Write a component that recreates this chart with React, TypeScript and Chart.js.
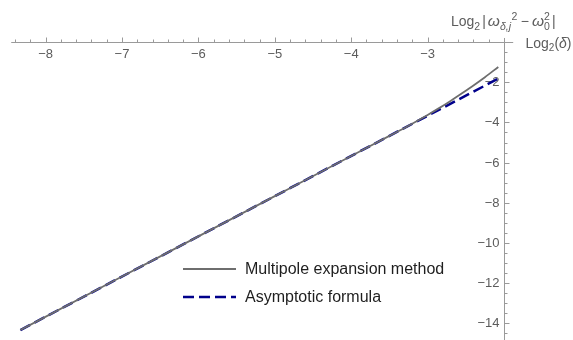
import React, { useEffect, useRef } from "react";
import { Chart, registerables } from "chart.js";

Chart.register(...registerables);

// ---- data ----
const multipoleX = [-8.33, -7, -6, -5, -4, -3.5, -3.25, -3, -2.85, -2.7, -2.55, -2.4, -2.25, -2.075];
const multipoleY = [-14.33, -11.67, -9.67, -7.67, -5.67, -4.67, -4.165, -3.63, -3.29, -2.93, -2.55, -2.16, -1.75, -1.24];
const asymptoticX = [-8.33, -2.09];
const asymptoticY = [-14.33, -1.85];
const seriesLabels = ["Multipole expansion method", "Asymptotic formula"];
const xTickValues = [-8, -7, -6, -5, -4, -3];
const yTickValues = [-2, -4, -6, -8, -10, -12, -14];

const FONT = '"Liberation Sans", Arial, sans-serif';
const AXIS_COLOR = "#9a9a9a";
const LABEL_COLOR = "#5c5c5c";

type Seg = { t: string; size: number; dy: number; italic?: boolean; stack?: boolean; pad?: number };

function layoutRich(ctx: CanvasRenderingContext2D, segs: Seg[]) {
  const out: { s: Seg; x: number }[] = [];
  let cx = 0;
  let prevStart = 0;
  let prevWidth = 0;
  for (const s of segs) {
    ctx.font = `${s.italic ? "italic " : ""}${s.size}px ${FONT}`;
    const w = ctx.measureText(s.t).width;
    const pad = s.pad || 0;
    if (s.stack) {
      out.push({ s, x: prevStart });
      cx = Math.max(prevStart + prevWidth, prevStart + w);
      continue;
    }
    const x = cx + pad;
    out.push({ s, x });
    prevStart = x;
    prevWidth = w;
    cx = x + w + pad;
  }
  return { items: out, width: cx };
}

function drawRich(ctx: CanvasRenderingContext2D, segs: Seg[], x: number, baseline: number) {
  const { items } = layoutRich(ctx, segs);
  for (const it of items) {
    ctx.font = `${it.s.italic ? "italic " : ""}${it.s.size}px ${FONT}`;
    ctx.fillText(it.s.t, x + it.x, baseline + it.s.dy);
  }
}

const axesPlugin = {
  id: "mathAxes",
  beforeDatasetsDraw(chart: any) {
    const ctx: CanvasRenderingContext2D = chart.ctx;
    const xs = chart.scales.x;
    const ys = chart.scales.y;
    const x0 = Math.round(xs.getPixelForValue(-2)) + 0.5;
    const y0 = Math.round(ys.getPixelForValue(0)) + 0.5;
    ctx.save();
    ctx.strokeStyle = AXIS_COLOR;
    ctx.lineWidth = 1;
    ctx.beginPath();
    ctx.moveTo(xs.getPixelForValue(-8.45), y0);
    ctx.lineTo(xs.getPixelForValue(-1.88), y0);
    ctx.moveTo(x0, ys.getPixelForValue(0.2));
    ctx.lineTo(x0, ys.getPixelForValue(-15.5));
    // x ticks (upwards)
    for (let i = -42; i <= -11; i++) {
      const v = i / 5;
      const major = i % 5 === 0;
      const px = Math.round(xs.getPixelForValue(v)) + 0.5;
      ctx.moveTo(px, y0);
      ctx.lineTo(px, y0 - (major ? 5 : 3));
    }
    // y ticks (rightwards)
    for (let i = -1; i >= -30; i--) {
      const v = i / 2;
      const major = i % 4 === 0;
      const py = Math.round(ys.getPixelForValue(v)) + 0.5;
      ctx.moveTo(x0, py);
      ctx.lineTo(x0 + (major ? 5 : 3), py);
    }
    ctx.stroke();

    ctx.fillStyle = LABEL_COLOR;
    ctx.font = `13px ${FONT}`;
    ctx.textAlign = "center";
    ctx.textBaseline = "middle";
    for (const v of xTickValues) {
      ctx.fillText("\u2212" + Math.abs(v), xs.getPixelForValue(v), y0 + 11.5);
    }
    ctx.textAlign = "right";
    for (const v of yTickValues) {
      ctx.fillText("\u2212" + Math.abs(v), x0 - 5, ys.getPixelForValue(v) + 0.5);
    }
    ctx.textAlign = "left";
    ctx.textBaseline = "alphabetic";
    // x axis label
    drawRich(
      ctx,
      [
        { t: "Log", size: 14, dy: 0 },
        { t: "2", size: 10, dy: 3.5 },
        { t: "(", size: 14, dy: 0 },
        { t: "\u03b4", size: 14, dy: 0, italic: true },
        { t: ")", size: 14, dy: 0 },
      ],
      x0 + 21,
      y0 + 5
    );
    // y axis label
    drawRich(
      ctx,
      [
        { t: "Log", size: 14, dy: 0 },
        { t: "2", size: 10.5, dy: 3.5 },
        { t: "|", size: 14, dy: 0, pad: 2 },
        { t: "\u03c9", size: 15.5, dy: 0, italic: true },
        { t: "\u03b4,", size: 10.5, dy: 3.5, italic: true },
        { t: "j", size: 10.5, dy: 3.5, italic: true },
        { t: "2", size: 10.5, dy: -6.5, pad: 0.5 },
        { t: "\u2212", size: 14, dy: 0, pad: 3 },
        { t: "\u03c9", size: 15.5, dy: 0, italic: true },
        { t: "0", size: 10.5, dy: 3.5 },
        { t: "2", size: 10.5, dy: -6.5, stack: true },
        { t: "|", size: 14, dy: 0, pad: 2 },
      ],
      451,
      26
    );
    ctx.restore();
  },
  afterDatasetsDraw(chart: any) {
    const ctx: CanvasRenderingContext2D = chart.ctx;
    const dsets = chart.data.datasets;
    const rows = [269, 297];
    ctx.save();
    dsets.forEach((ds: any, i: number) => {
      const y = rows[i];
      ctx.strokeStyle = ds.borderColor;
      ctx.lineWidth = ds.borderWidth;
      ctx.setLineDash(ds.borderDash || []);
      ctx.beginPath();
      ctx.moveTo(183, y);
      ctx.lineTo(236, y);
      ctx.stroke();
      ctx.setLineDash([]);
      ctx.fillStyle = "#1e1e1e";
      ctx.font = `16px ${FONT}`;
      ctx.textAlign = "left";
      ctx.textBaseline = "middle";
      ctx.fillText(ds.label, 245, y + 0.5);
    });
    ctx.restore();
  },
};

export default function App() {
  const canvasRef = useRef<HTMLCanvasElement | null>(null);
  useEffect(() => {
    if (!canvasRef.current) return;
    const chart = new Chart(canvasRef.current, {
      type: "line",
      data: {
        datasets: [
          {
            label: seriesLabels[0],
            data: multipoleX.map((x, i) => ({ x, y: multipoleY[i] })),
            borderColor: "#6e6e6e",
            borderWidth: 1.8,
            pointRadius: 0,
            fill: false,
            cubicInterpolationMode: "monotone",
          },
          {
            label: seriesLabels[1],
            data: asymptoticX.map((x, i) => ({ x, y: asymptoticY[i] })),
            borderColor: "#00008b",
            borderWidth: 2.5,
            borderDash: [11, 5],
            pointRadius: 0,
            fill: false,
          },
        ],
      },
      options: {
        animation: false,
        responsive: false,
        devicePixelRatio: 1,
        layout: { padding: { left: 7.4, right: 53.7, top: 21.9, bottom: 6.55 } },
        scales: {
          x: { type: "linear", min: -8.5, max: -1.8, display: false },
          y: { type: "linear", min: -14.5, max: 1, display: false },
        },
        plugins: {
          legend: { display: false },
          tooltip: { enabled: false },
        },
      },
      plugins: [axesPlugin],
    } as any);
    return () => chart.destroy();
  }, []);
  return (
    <div style={{ position: "absolute", left: 0, top: 0, width: 573, height: 340, background: "#fff" }}>
      <canvas ref={canvasRef} width={573} height={340} style={{ width: 573, height: 340 }} />
    </div>
  );
}
